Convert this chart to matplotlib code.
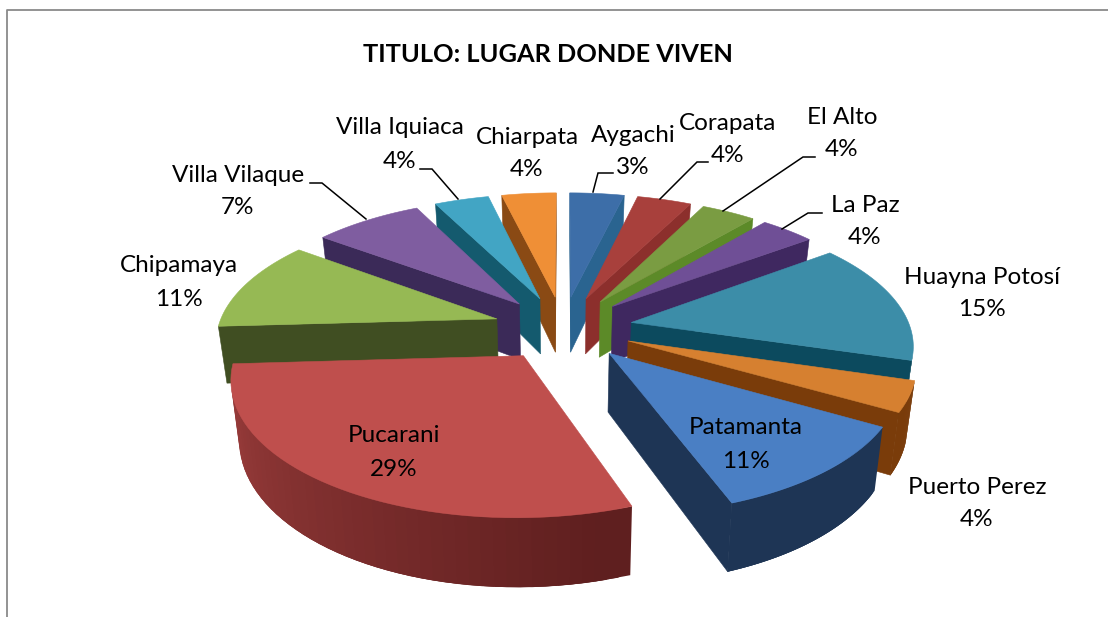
import numpy as np
import matplotlib
matplotlib.use("Agg")
import matplotlib.pyplot as plt
from matplotlib.colors import to_rgb

TITLE = "TITULO: LUGAR DONDE VIVEN"
NAMES = ["Aygachi", "Corapata", "El Alto", "La Paz", "Huayna Potosí", "Puerto Perez",
         "Patamanta", "Pucarani", "Chipamaya", "Villa Vilaque", "Villa Iquiaca", "Chiarpata"]
PCT_LABELS = ["3%", "4%", "4%", "4%", "15%", "4%", "11%", "29%", "11%", "7%", "4%", "4%"]
# slice sizes as measured on the drawing (the labels are rounded)
SLICES = [3.7, 3.7, 3.7, 3.7, 14.8, 3.7, 11.1, 29.6, 11.1, 7.4, 3.7, 3.7]

TOP_COL = ["#3d6ea8", "#a8403c", "#7a9c42", "#6f4f96", "#3c8da8", "#d68030",
           "#4a7fc4", "#bf4f4d", "#96b954", "#7f5da0", "#42a5c4", "#ef8f36"]
WALL_COL = ["#2a6490", "#8c2f2c", "#5c8a28", "#3f2860", "#0c4a5e", "#7a3c0a",
            "#1e3555", "#5f1f1f", "#404e22", "#3b2a58", "#145a6e", "#8a4a14"]

# label centres in pixels: name line y, pct line y
LABEL_POS = [(633, 135, 167), (728, 124, 156), (842, 118, 149), (865, 206, 237),
             (982, 278, 310), (977, 487, 520), (746, 428, 461), (394, 436, 469),
             (179, 266, 300), (238, 175, 207), (400, 128, 161), (527, 137, 170)]
LEADERS = [[(613, 173), (598, 173), (593, 192)], [(708, 162), (697, 162), (660, 199)],
           [(815, 157), (803, 157), (723, 211)], [(822, 213), (808, 213), (782, 229)],
           [(310, 183), (322, 183), (366, 219)], [(420, 169), (432, 169), (458, 199)]]

CX, CY = 563, 328
RX, RY = 279, 128.5
PERSP = 0.15
EXPLODE = 0.25
HEIGHT = 57
BOTTOM_SCALE = 0.975


def proj(u, v):
    """disc coords (u right, v to the back) to pixels, top face and bottom face."""
    s = 1 / (1 + PERSP * v)
    x = CX + RX * u * s
    y = CY - RY * v * s
    return np.array([x, y]), np.array([CX + (x - CX) * BOTTOM_SCALE, y + HEIGHT * s])


def area(q):
    x, y = np.array(q).T
    return 0.5 * np.sum(x * np.roll(y, -1) - np.roll(x, -1) * y)


def quad(ax, a, b, c, lw=0.4):
    # a, b are (top, bottom) pairs; keep only the faces turned to the viewer
    q = [a[0], b[0], b[1], a[1]]
    if area(q) >= 0:
        return
    ax.fill(*np.array(q).T, facecolor=c, edgecolor=c if lw else "none", lw=lw)


def lerp(c1, c2, f):
    return tuple((1 - f) * np.array(to_rgb(c1)) + f * np.array(to_rgb(c2)))


fig = plt.figure(figsize=(11.08, 6.17), dpi=100)
ax = fig.add_axes([0, 0, 1, 1])
ax.set_xlim(0, 1108); ax.set_ylim(617, 0); ax.axis("off")
plt.rcParams["font.family"] = ["Lato", "DejaVu Sans"]

# chart border: only left and top are inside the crop
ax.plot([7, 7, 1108], [617, 9.5, 9.5], color="#8a8a8a", lw=1.3)

edges = np.cumsum([0] + SLICES) / np.sum(SLICES) * 2 * np.pi
mids = (edges[:-1] + edges[1:]) / 2
for i in np.argsort(-np.cos(mids)):
    t0, t1, tm = edges[i], edges[i + 1], mids[i]
    du, dv = EXPLODE * np.sin(tm), EXPLODE * np.cos(tm)
    ts = np.linspace(t0, t1, 50)
    rim = [proj(du + np.sin(t), dv + np.cos(t)) for t in ts]
    apex = proj(du, dv)
    # radial walls
    quad(ax, apex, rim[0], WALL_COL[i])
    quad(ax, rim[-1], apex, WALL_COL[i])
    # outer wall, shaded along the angle; strips overlap the next one to hide seams
    for k in range(len(rim) - 1):
        f = np.clip((np.degrees(ts[k]) - 165) / 130, 0, 1) * 0.85
        quad(ax, rim[k], rim[min(k + 3, len(rim) - 1)], lerp(WALL_COL[i], TOP_COL[i], f), lw=0)
    top = [apex[0]] + [r[0] for r in rim]
    ax.fill(*np.array(top).T, facecolor=TOP_COL[i], edgecolor=TOP_COL[i], lw=0.4)

for path in LEADERS:
    ax.plot(*np.array(path).T, color="black", lw=1.1, solid_joinstyle="miter")

for name, pct, (x, y1, y2) in zip(NAMES, PCT_LABELS, LABEL_POS):
    ax.text(x, y1, name, ha="center", va="center", fontsize=17.5, color="black")
    ax.text(x, y2, pct, ha="center", va="center", fontsize=17.5, color="black")
ax.text(548, 54, TITLE, ha="center", va="center", fontsize=18.3, fontweight="bold", color="black")

fig.savefig("out.png", dpi=100)
